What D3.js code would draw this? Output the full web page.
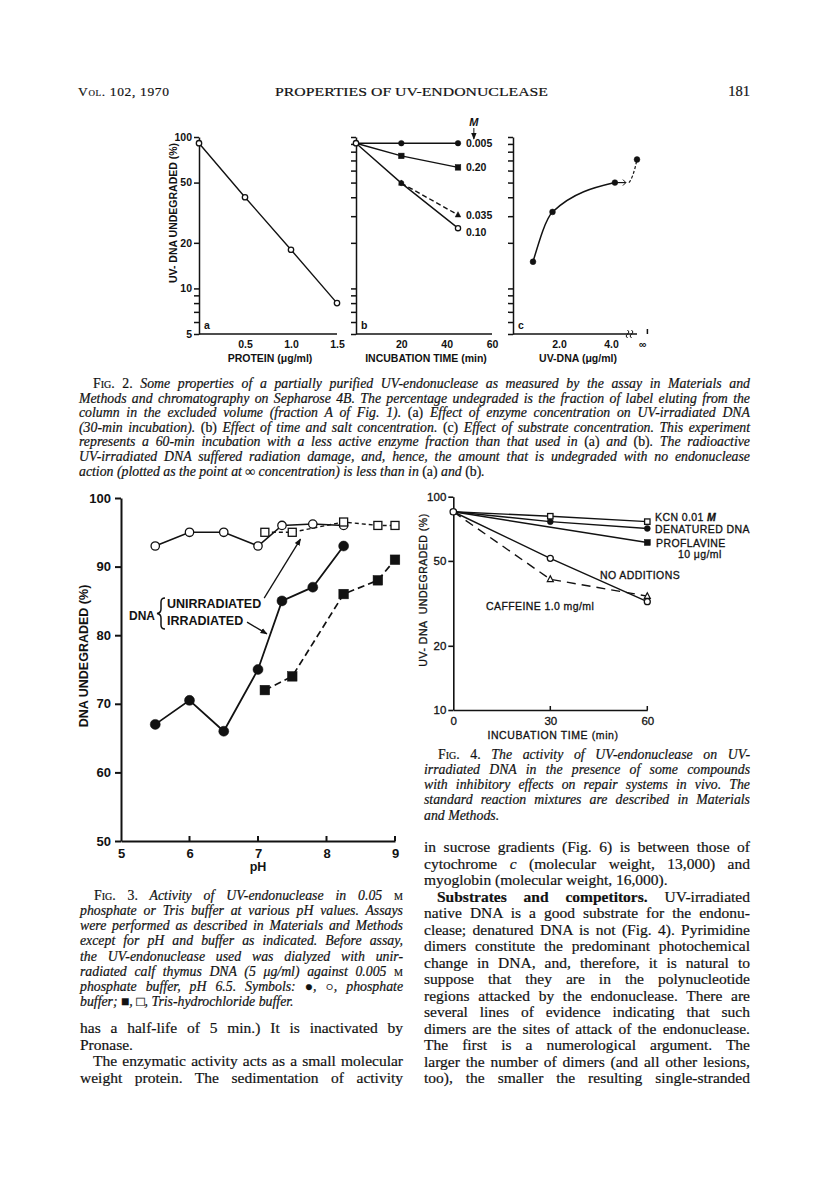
<!DOCTYPE html>
<html><head><meta charset="utf-8">
<script src="https://cdn.jsdelivr.net/npm/d3@7"></script>
<style>
html,body{margin:0;padding:0;background:#fff;}
svg{display:block;}
</style></head><body>
<script>
// ---------------- DATA ----------------
// Fig. 2a: protein concentration vs % UV-DNA undegraded
const fig2aProtein = [0, 0.5, 1.0, 1.5];
const fig2aUndeg   = [91, 40, 18, 8];
// Fig. 2b: incubation time, salt concentrations (M)
const fig2bTime   = [0, 20, 45];
const fig2bLabels = ["0.005", "0.20", "0.035", "0.10"];
const fig2b_0005  = [91, 91, 91];
const fig2b_020   = [91, 75, 63];
const fig2b_0035  = [null, 49.6, 30.6];
const fig2b_010   = [91, 49.6, 25];
// Fig. 2c: substrate concentration (last point = infinity)
const fig2cDNA    = [1.0, 1.75, 4.15];
const fig2cUndeg  = [15, 32, 50];
const fig2cInfPos = 5.0;
const fig2cInfUndeg = 71;
const fig2XTicksA = [0.5, 1.0, 1.5];
const fig2XTicksB = [20, 40, 60];
const fig2XTicksC = [2, 4, 5.2];
const fig2XTickLabelsC = ["2.0", "4.0", "\u221e"];
const fig2YTicksA = [5, 6, 7, 8, 9, 10, 20, 50, 100];
const fig2YTicksBC = [5, 6, 7, 8, 9, 10, 20, 30, 40, 50, 60, 70, 80, 90, 100];
const fig2YLabels = [5, 10, 20, 50, 100];
// Fig. 3: pH dependence
const fig3PhosPH    = [5.5, 6.0, 6.5, 7.0, 7.35, 7.8, 8.25];
const fig3PhosIrr   = [67, 70.5, 66, 75, 85, 87, 93];
const fig3PhosUnirr = [93, 95, 95, 93, 96, 96.2, 96];
const fig3TrisPH    = [7.1, 7.5, 8.25, 8.75, 9.0];
const fig3TrisIrr   = [72, 74, 86, 88, 91];
const fig3TrisUnirr = [95, 95, 96.5, 96, 96];
const fig3XTicks = [5, 6, 7, 8, 9];
const fig3YTicks = [50, 60, 70, 80, 90, 100];
// Fig. 4: inhibitors
const fig4Time     = [0, 30, 60];
const fig4KCN      = [85, 81, 76.4];
const fig4Denat    = [85, 76.4, 71];
const fig4ProflTime = [0, 60];
const fig4Proflav  = [85, 61];
const fig4NoAdd    = [85, 51.4, 32.2];
const fig4Caffeine = [85, 41, 34.2];
const fig4XTicks = [0, 30, 60];
const fig4YTicks = [10, 20, 50, 100];

// ---------------- TEXT ----------------
const headerLeft = "<sc>Vol.</sc> 102, 1970";
const headerCenter = "PROPERTIES OF UV-ENDONUCLEASE";
const headerRight = "181";
const fig2Caption = [
 "^<sc>Fig. 2.</sc> Some properties of a partially purified UV-endonuclease as measured by the assay in Materials and",
 "Methods and chromatography on Sepharose 4B. The percentage undegraded is the fraction of label eluting from the",
 "column in the excluded volume (fraction A of Fig. 1). <r>(a)</r> Effect of enzyme concentration on UV-irradiated DNA",
 "(30-min incubation). <r>(b)</r> Effect of time and salt concentration. <r>(c)</r> Effect of substrate concentration. This experiment",
 "represents a 60-min incubation with a less active enzyme fraction than that used in <r>(a)</r> and <r>(b)</r>. The radioactive",
 "UV-irradiated DNA suffered radiation damage, and, hence, the amount that is undegraded with no endonuclease",
 "action (plotted as the point at \u221e concentration) is less than in <r>(a)</r> and <r>(b)</r>.$"
];
const fig3Caption = [
 "^<sc>Fig. 3.</sc> Activity of UV-endonuclease in 0.05 <sc>m</sc>",
 "phosphate or Tris buffer at various pH values. Assays",
 "were performed as described in Materials and Methods",
 "except for pH and buffer as indicated. Before assay,",
 "the UV-endonuclease used was dialyzed with unir-",
 "radiated calf thymus DNA (5 \u03bcg/ml) against 0.005 <sc>m</sc>",
 "phosphate buffer, pH 6.5. Symbols: <r>\u25cf</r>, <r>\u25cb</r>, phosphate",
 "buffer; <r>\u25a0</r>, <r>\u25a1</r>, Tris-hydrochloride buffer.$"
];
const leftBody = [
 "has a half-life of 5 min.) It is inactivated by",
 "Pronase.$",
 "^The enzymatic activity acts as a small molecular",
 "weight protein. The sedimentation of activity"
];
const fig4Caption = [
 "^<sc>Fig. 4.</sc> The activity of UV-endonuclease on UV-",
 "irradiated DNA in the presence of some compounds",
 "with inhibitory effects on repair systems in vivo. The",
 "standard reaction mixtures are described in Materials",
 "and Methods.$"
];
const rightBody = [
 "in sucrose gradients (Fig. 6) is between those of",
 "cytochrome <i>c</i> (molecular weight, 13,000) and",
 "myoglobin (molecular weight, 16,000).$",
 "^<b>Substrates and competitors.</b> UV-irradiated",
 "native DNA is a good substrate for the endonu-",
 "clease; denatured DNA is not (Fig. 4). Pyrimidine",
 "dimers constitute the predominant photochemical",
 "change in DNA, and, therefore, it is natural to",
 "suppose that they are in the polynucleotide",
 "regions attacked by the endonuclease. There are",
 "several lines of evidence indicating that such",
 "dimers are the sites of attack of the endonuclease.",
 "The first is a numerological argument. The",
 "larger the number of dimers (and all other lesions,",
 "too), the smaller the resulting single-stranded"
];

// ---------------- SETUP ----------------
const W = 816, H = 1197;
const INK = "#121212";
const SANS = '"Liberation Sans", Arial, Helvetica, sans-serif';
const SERIF = '"Liberation Serif", "Times New Roman", serif';
const svg = d3.select("body").append("svg").attr("width", W).attr("height", H);
svg.append("rect").attr("width", W).attr("height", H).attr("fill", "#fff");
const defs = svg.append("defs");
defs.append("marker").attr("id", "ah").attr("viewBox", "0 0 10 10")
  .attr("refX", 9).attr("refY", 5).attr("markerWidth", 7).attr("markerHeight", 7)
  .attr("markerUnits", "userSpaceOnUse").attr("orient", "auto")
  .append("path").attr("d", "M0,1 L10,5 L0,9 z").attr("fill", INK);

function parse(str) {
  const out = []; const re = /<(r|i|b|sc)>(.*?)<\/\1>|([^<]+)/g; let m;
  while ((m = re.exec(str))) { if (m[1]) out.push({ t: m[2], s: m[1] }); else out.push({ t: m[3], s: null }); }
  return out;
}
function richText(g, str, x, y, size, base, anchor) {
  const t = g.append("text").attr("x", x).attr("y", y).attr("font-family", SERIF)
    .attr("font-size", size).attr("fill", INK).attr("stroke", INK).attr("stroke-width", 0.2)
    .attr("font-style", base === "i" ? "italic" : "normal");
  if (anchor) t.attr("text-anchor", anchor);
  parse(str).forEach(seg => {
    const ts = t.append("tspan").text(seg.t);
    if (seg.s === "r") ts.attr("font-style", "normal");
    if (seg.s === "i") ts.attr("font-style", "italic");
    if (seg.s === "b") ts.attr("font-weight", "bold").attr("font-style", "normal");
    if (seg.s === "sc") ts.attr("font-style", "normal").style("font-variant", "small-caps");
  });
  return t;
}
function block(lines, x, width, y0, lh, size, base, indent) {
  lines.forEach((raw, i) => {
    let s = raw, ind = 0, just = true;
    if (s.startsWith("^")) { ind = indent; s = s.slice(1); }
    if (s.endsWith("$")) { just = false; s = s.slice(0, -1); }
    const t = richText(svg, s, x + ind, y0 + i * lh, size, base);
    if (just) {
      const len = t.node().getComputedTextLength();
      const n = (s.replace(/<[^>]+>/g, "").match(/ /g) || []).length;
      if (n > 0) t.style("word-spacing", ((width - ind - len) / n) + "px");
    }
  });
}
function sansText(g, str, x, y, size, weight, anchor) {
  return g.append("text").attr("x", x).attr("y", y).attr("font-family", SANS)
    .attr("font-size", size).attr("font-weight", weight || "normal").attr("fill", INK)
    .attr("text-anchor", anchor || "start").text(str);
}
function styleAxis(g, size, weight, sw) {
  g.attr("font-family", SANS).attr("font-size", size).attr("font-weight", weight);
  g.selectAll("text").attr("fill", INK);
  g.selectAll("line").attr("stroke", INK).attr("stroke-width", sw);
  g.selectAll("path").attr("stroke", INK).attr("stroke-width", sw);
}
function marker(g, type, x, y, s) {
  if (type === "fc" || type === "oc") {
    g.append("circle").attr("cx", x).attr("cy", y).attr("r", s)
      .attr("fill", type === "fc" ? INK : "#fff").attr("stroke", INK).attr("stroke-width", type === "fc" ? 0.5 : 1.3);
  } else if (type === "fs" || type === "os") {
    g.append("rect").attr("x", x - s).attr("y", y - s).attr("width", 2 * s).attr("height", 2 * s)
      .attr("fill", type === "fs" ? INK : "#fff").attr("stroke", INK).attr("stroke-width", type === "fs" ? 0.5 : 1.3);
  } else if (type === "ft" || type === "ot") {
    const h = s * 1.9;
    g.append("path").attr("d", `M${x},${y - h * 0.6} L${x + s},${y + h * 0.4} L${x - s},${y + h * 0.4} Z`)
      .attr("fill", type === "ft" ? INK : "#fff").attr("stroke", INK).attr("stroke-width", type === "ft" ? 0.5 : 1.2);
  }
}

// ---------------- HEADER ----------------
richText(svg, headerLeft, 78, 96, 13.5, "r").attr("textLength", 91);
richText(svg, headerCenter, 275, 96, 13.5, "r").attr("textLength", 273).attr("lengthAdjust", "spacingAndGlyphs");
richText(svg, headerRight, 750, 96, 14.5, "r", "end");

// ---------------- FIG 2 ----------------
const f2 = svg.append("g");
const f2y = d3.scaleLog().domain([5, 100]).range([334, 137]);
const f2aX = d3.scaleLinear().domain([0, 1.5]).range([199, 337]);
const f2bX = d3.scaleLinear().domain([0, 60]).range([356, 492]);
const f2cX = d3.scaleLinear().domain([0, 5]).range([507, 637]);
const F2S = 10.5;

function fig2Axes(xs, x0, xTicks, xLabels, yTicks, showY) {
  const ya = f2.append("g").attr("transform", `translate(${x0},0)`)
    .call(d3.axisLeft(f2y).tickValues(yTicks)
      .tickFormat(d => showY && fig2YLabels.includes(d) ? d : "")
      .tickSize(5).tickPadding(2).tickSizeOuter(0));
  styleAxis(ya, F2S, "bold", 1.5);
  const xa = f2.append("g").attr("transform", `translate(0,${f2y(5)})`)
    .call(d3.axisBottom(xs).tickValues(xTicks)
      .tickFormat((d, i) => xLabels[i])
      .tickSize(0).tickPadding(7).tickSizeOuter(0));
  xa.select(".domain").remove();
  styleAxis(xa, F2S, "bold", 1.5);
  f2.append("line").attr("x1", x0).attr("x2", xs.range()[1]).attr("y1", f2y(5)).attr("y2", f2y(5))
    .attr("stroke", INK).attr("stroke-width", 1.6);
}
fig2Axes(f2aX, 199, fig2XTicksA, ["0.5", "1.0", "1.5"], fig2YTicksA, true);
fig2Axes(f2bX, 356, fig2XTicksB, ["20", "40", "60"], fig2YTicksBC, false);
fig2Axes(f2cX, 513, fig2XTicksC, fig2XTickLabelsC, fig2YTicksBC, false);

// panel a data
const lineA = d3.line().x((d, i) => f2aX(fig2aProtein[i])).y(d => f2y(d));
f2.append("path").datum(fig2aUndeg).attr("d", lineA).attr("fill", "none").attr("stroke", INK).attr("stroke-width", 1.4);
fig2aUndeg.forEach((v, i) => marker(f2, "oc", f2aX(fig2aProtein[i]), f2y(v), 2.7));

// panel b data
const lineB = d3.line().defined(d => d != null).x((d, i) => f2bX(fig2bTime[i])).y(d => f2y(d));
[fig2b_0005, fig2b_020, fig2b_010].forEach(arr =>
  f2.append("path").datum(arr).attr("d", lineB).attr("fill", "none").attr("stroke", INK).attr("stroke-width", 1.4));
f2.append("path").datum(fig2b_0035).attr("d", lineB).attr("fill", "none").attr("stroke", INK)
  .attr("stroke-width", 1.4).attr("stroke-dasharray", "5,3");
marker(f2, "oc", f2bX(0), f2y(fig2b_0005[0]), 2.7);
[1, 2].forEach(i => marker(f2, "fc", f2bX(fig2bTime[i]), f2y(fig2b_0005[i]), 2.8));
[1, 2].forEach(i => marker(f2, "fs", f2bX(fig2bTime[i]), f2y(fig2b_020[i]), 2.8));
[1, 2].forEach(i => marker(f2, "ft", f2bX(fig2bTime[i]), f2y(fig2b_0035[i]), 2.8));
marker(f2, "fc", f2bX(fig2bTime[1]), f2y(fig2b_010[1]), 2.6);
marker(f2, "oc", f2bX(fig2bTime[2]), f2y(fig2b_010[2]), 2.6);
const lastB = [fig2b_0005, fig2b_020, fig2b_0035, fig2b_010].map(a => a[2]);
const labelDy = [0, 0, 0, 4];
fig2bLabels.forEach((lab, i) => sansText(f2, lab, f2bX(45) + 8, f2y(lastB[i]) + 4 + labelDy[i], F2S, "bold"));
sansText(f2, "M", f2bX(52), 126, 11, "bold").attr("font-style", "italic").attr("text-anchor", "middle");
f2.append("line").attr("x1", f2bX(52)).attr("x2", f2bX(52)).attr("y1", 128).attr("y2", 139)
  .attr("stroke", INK).attr("stroke-width", 1).attr("marker-end", "url(#ah)");

// panel c data
const lineC = d3.line().curve(d3.curveMonotoneX).x((d, i) => f2cX(fig2cDNA[i])).y(d => f2y(d));
f2.append("path").datum(fig2cUndeg).attr("d", lineC).attr("fill", "none").attr("stroke", INK).attr("stroke-width", 1.5);
fig2cUndeg.forEach((v, i) => marker(f2, "fc", f2cX(fig2cDNA[i]), f2y(v), 2.9));
const c3x = f2cX(fig2cDNA[2]), c3y = f2y(fig2cUndeg[2]);
f2.append("line").attr("x1", c3x).attr("x2", c3x + 11).attr("y1", c3y).attr("y2", c3y).attr("stroke", INK).attr("stroke-width", 1.2);
f2.append("path").attr("d", `M${c3x + 8},${c3y - 3} L${c3x + 11},${c3y} L${c3x + 8},${c3y + 3}`).attr("fill", "none").attr("stroke", INK).attr("stroke-width", 1);
f2.append("path").attr("d", `M${c3x + 14},${c3y} Q${c3x + 18},${c3y - 4} ${f2cX(fig2cInfPos)},${f2y(fig2cInfUndeg)}`)
  .attr("fill", "none").attr("stroke", INK).attr("stroke-width", 1.2).attr("stroke-dasharray", "3,2");
marker(f2, "fc", f2cX(fig2cInfPos), f2y(fig2cInfUndeg), 2.9);
const bx = f2cX(4.75), by = f2y(5);
[-2, 2].forEach(o => f2.append("path").attr("d", `M${bx + o - 1},${by - 4} q 3,2 0,4 q -3,2 0,4`)
  .attr("fill", "none").attr("stroke", INK).attr("stroke-width", 1));
f2.append("line").attr("x1", f2cX(5.4)).attr("x2", f2cX(5.4)).attr("y1", by).attr("y2", by - 5).attr("stroke", INK).attr("stroke-width", 1.5);

sansText(f2, "a", 204, 329, F2S, "bold");
sansText(f2, "b", 361, 329, F2S, "bold");
sansText(f2, "c", 518, 329, F2S, "bold");
sansText(f2, "PROTEIN (\u03bcg/ml)", 270, 362, F2S, "bold", "middle");
sansText(f2, "INCUBATION TIME (min)", 426, 362, F2S, "bold", "middle");
sansText(f2, "UV-DNA (\u03bcg/ml)", 578, 362, F2S, "bold", "middle");
sansText(f2, "UV- DNA UNDEGRADED (%)", 0, 0, F2S, "bold", "middle")
  .attr("transform", "translate(177,213) rotate(-90)");

// ---------------- FIG 2 CAPTION ----------------
block(fig2Caption, 79, 671, 388, 14.6, 13.8, "i", 14);

// ---------------- FIG 3 ----------------
const f3 = svg.append("g");
const f3x = d3.scaleLinear().domain([5, 9]).range([121, 395]);
const f3y = d3.scaleLinear().domain([50, 100]).range([841, 498]);
const ya3 = f3.append("g").attr("transform", `translate(${f3x(5)},0)`)
  .call(d3.axisLeft(f3y).tickValues(fig3YTicks).tickFormat(d3.format("d")).tickSize(6).tickPadding(4).tickSizeOuter(0));
styleAxis(ya3, 13, "bold", 2);
const xa3 = f3.append("g").attr("transform", `translate(0,${f3y(50)})`)
  .call(d3.axisBottom(f3x).tickValues(fig3XTicks).tickFormat(d3.format("d")).tickSize(0).tickPadding(8).tickSizeOuter(0));
styleAxis(xa3, 13, "bold", 2);
fig3XTicks.slice(1).forEach(t => f3.append("line").attr("x1", f3x(t)).attr("x2", f3x(t))
  .attr("y1", f3y(50)).attr("y2", f3y(50) - 5).attr("stroke", INK).attr("stroke-width", 2));
sansText(f3, "pH", f3x(7), 871, 12.5, "bold", "middle");
sansText(f3, "DNA UNDEGRADED (%)", 0, 0, 12.5, "bold", "middle").attr("transform", "translate(88,656) rotate(-90)");

const lp = d3.line().x((d, i) => f3x(fig3PhosPH[i])).y(d => f3y(d));
const lt = d3.line().x((d, i) => f3x(fig3TrisPH[i])).y(d => f3y(d));
f3.append("path").datum(fig3PhosIrr).attr("d", lp).attr("fill", "none").attr("stroke", INK).attr("stroke-width", 1.8);
f3.append("path").datum(fig3PhosUnirr).attr("d", lp).attr("fill", "none").attr("stroke", INK).attr("stroke-width", 1.6);
f3.append("path").datum(fig3TrisIrr).attr("d", lt).attr("fill", "none").attr("stroke", INK).attr("stroke-width", 1.7).attr("stroke-dasharray", "7,4");
f3.append("path").datum(fig3TrisUnirr).attr("d", lt).attr("fill", "none").attr("stroke", INK).attr("stroke-width", 1.4).attr("stroke-dasharray", "4,3");
fig3PhosIrr.forEach((v, i) => marker(f3, "fc", f3x(fig3PhosPH[i]), f3y(v), 5));
fig3PhosUnirr.forEach((v, i) => marker(f3, "oc", f3x(fig3PhosPH[i]), f3y(v), 4.2));
fig3TrisIrr.forEach((v, i) => marker(f3, "fs", f3x(fig3TrisPH[i]), f3y(v), 4.8));
fig3TrisUnirr.forEach((v, i) => marker(f3, "os", f3x(fig3TrisPH[i]), f3y(v), 4));

sansText(f3, "DNA", 142, 619.5, 12, "bold", "middle");
f3.append("path").attr("d", "M165,598 q-4,0 -4,4 v7 q0,4 -4,4.5 q4,0.5 4,4.5 v7 q0,4 4,4")
  .attr("fill", "none").attr("stroke", INK).attr("stroke-width", 1.5);
sansText(f3, "UNIRRADIATED", 167, 607.5, 12.5, "bold");
sansText(f3, "IRRADIATED", 167, 625, 12.5, "bold");
f3.append("line").attr("x1", f3x(7.09)).attr("y1", f3y(85.4)).attr("x2", f3x(7.62)).attr("y2", f3y(94))
  .attr("stroke", INK).attr("stroke-width", 1.3).attr("marker-end", "url(#ah)");
f3.append("line").attr("x1", f3x(6.84)).attr("y1", f3y(81.9)).attr("x2", f3x(7.13)).attr("y2", f3y(80.2))
  .attr("stroke", INK).attr("stroke-width", 1.3).attr("marker-end", "url(#ah)");

// ---------------- FIG 3 CAPTION + LEFT BODY ----------------
block(fig3Caption, 80, 323, 899.5, 15.25, 13.8, "i", 14);
block(leftBody, 80, 323, 1033, 16.5, 15.5, "r", 13);

// ---------------- FIG 4 ----------------
const f4 = svg.append("g");
const f4x = d3.scaleLinear().domain([0, 60]).range([453.3, 647.3]);
const f4y = d3.scaleLog().domain([10, 100]).range([710, 496.7]);
const ya4 = f4.append("g").attr("transform", `translate(${f4x(0)},0)`)
  .call(d3.axisLeft(f4y).tickValues(fig4YTicks).tickFormat(d3.format("d")).tickSize(5).tickPadding(2).tickSizeOuter(0));
styleAxis(ya4, 11.5, "normal", 1.6);
const xa4 = f4.append("g").attr("transform", `translate(0,${f4y(10)})`)
  .call(d3.axisBottom(f4x).tickValues(fig4XTicks).tickSize(0).tickPadding(7).tickSizeOuter(0));
styleAxis(xa4, 11.5, "normal", 1.6);
ya4.selectAll("text").attr("stroke", INK).attr("stroke-width", 0.3);
xa4.selectAll("text").attr("stroke", INK).attr("stroke-width", 0.3);
fig4XTicks.slice(1).forEach(t => f4.append("line").attr("x1", f4x(t)).attr("x2", f4x(t))
  .attr("y1", f4y(10)).attr("y2", f4y(10) - 4).attr("stroke", INK).attr("stroke-width", 1.5));
sansText(f4, "INCUBATION TIME (min)", 553, 739, 10.5, "normal", "middle").attr("letter-spacing", 0.6)
  .attr("stroke", INK).attr("stroke-width", 0.3);
sansText(f4, "UV- DNA  UNDEGRADED (%)", 0, 0, 10.5, "normal", "middle").style("white-space", "pre")
  .attr("letter-spacing", 0.5).attr("stroke", INK).attr("stroke-width", 0.3)
  .attr("transform", "translate(427,590) rotate(-90)");

const l4 = d3.line().x((d, i) => f4x(fig4Time[i])).y(d => f4y(d));
const l4p = d3.line().x((d, i) => f4x(fig4ProflTime[i])).y(d => f4y(d));
[fig4KCN, fig4Denat, fig4NoAdd].forEach(a =>
  f4.append("path").datum(a).attr("d", l4).attr("fill", "none").attr("stroke", INK).attr("stroke-width", 1.4));
f4.append("path").datum(fig4Proflav).attr("d", l4p).attr("fill", "none").attr("stroke", INK).attr("stroke-width", 1.4);
f4.append("path").datum(fig4Caffeine).attr("d", l4).attr("fill", "none").attr("stroke", INK).attr("stroke-width", 1.4).attr("stroke-dasharray", "9,6");
[1, 2].forEach(i => marker(f4, "fc", f4x(fig4Time[i]), f4y(fig4Denat[i]), 3));
[1, 2].forEach(i => marker(f4, "os", f4x(fig4Time[i]), f4y(fig4KCN[i]), 2.7));
marker(f4, "fs", f4x(fig4ProflTime[1]), f4y(fig4Proflav[1]), 3);
[1, 2].forEach(i => marker(f4, "ot", f4x(fig4Time[i]), f4y(fig4Caffeine[i]), 3));
[1, 2].forEach(i => marker(f4, "oc", f4x(fig4Time[i]), f4y(fig4NoAdd[i]), 3));
marker(f4, "oc", f4x(0), f4y(fig4KCN[0]), 3.2);

const f4lab = [
  sansText(f4, "DENATURED DNA", 655, 533, 10.5, "normal"),
  sansText(f4, "PROFLAVINE", 656, 547, 10.5, "normal"),
  sansText(f4, "10 \u03bcg/ml", 678, 558, 10.5, "normal"),
  sansText(f4, "NO ADDITIONS", 600, 579, 10.5, "normal"),
  sansText(f4, "CAFFEINE 1.0 mg/ml", 486, 610, 10.5, "normal")
];
const kcn = sansText(f4, "KCN 0.01 ", 655, 521, 10.5, "normal");
kcn.append("tspan").attr("font-style", "italic").attr("font-weight", "bold").text("M");
f4lab.concat([kcn]).forEach(t => t.attr("letter-spacing", 0.4).attr("stroke", INK).attr("stroke-width", 0.3));

// ---------------- FIG 4 CAPTION + RIGHT BODY ----------------
block(fig4Caption, 424, 326, 758.5, 15.25, 13.8, "i", 14);
block(rightBody, 424, 326, 852, 16.5, 15.5, "r", 13);
</script></body></html>
